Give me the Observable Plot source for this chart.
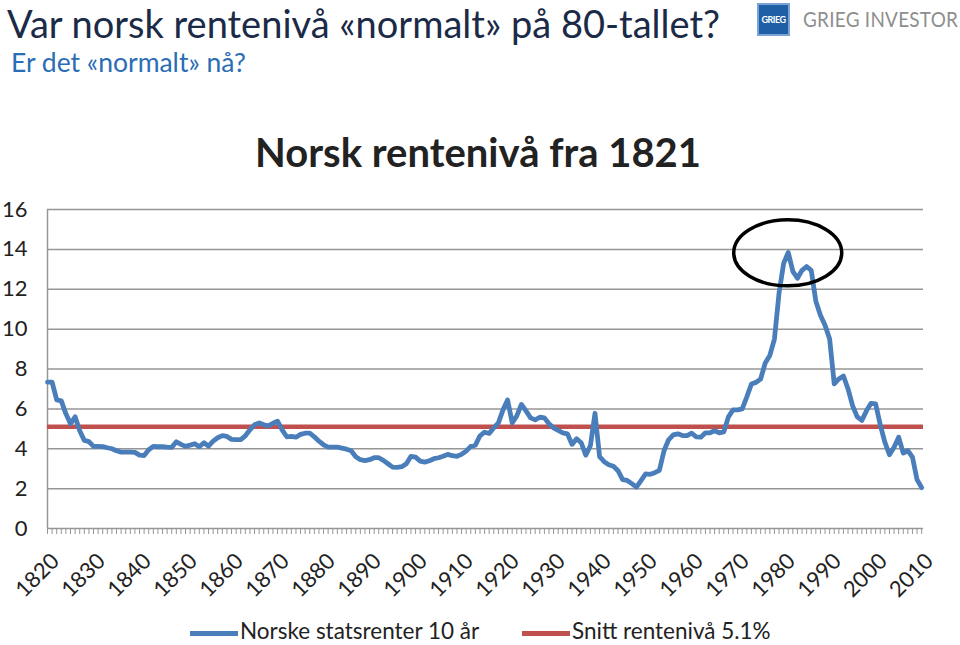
<!DOCTYPE html>
<html>
<head>
<meta charset="utf-8">
<script src="https://cdn.jsdelivr.net/npm/d3@7"></script>
<script src="https://cdn.jsdelivr.net/npm/@observablehq/plot@0.6"></script>
<style>
  html, body { margin: 0; padding: 0; background: #fff; }
  #page { position: relative; width: 960px; height: 645px; overflow: hidden; font-family: Lato, "Open Sans", sans-serif; }
  .abs { position: absolute; white-space: nowrap; line-height: normal; }
  #title { left: 7px; top: 0px; font-size: 38px; color: #1b2a47; }
  #subtitle { left: 11px; top: 46px; font-size: 26.5px; color: #2a6db5; }
  #logo { left: 757px; top: 3px; width: 33px; height: 33px; background: #1f5fa6; border: 2px solid #7aa3d6; box-sizing: border-box; color: #fff; font: bold 9px Lato; display:flex; align-items:center; justify-content:center; letter-spacing: -0.5px; }
  #brand { left: 803px; top: 6px; font-size: 21px; color: #8e8e8e; transform: scaleX(0.9); transform-origin: left center; letter-spacing: 0.3px; }
  #charttitle { left: 0; width: 956px; top: 128px; text-align: center; font-size: 40px; font-weight: bold; color: #222; }
  #chart { left: 0; top: 100px; }
  #legend { left: 0; top: 617px; width: 960px; height: 28px; font-size: 22.5px; color: #222; }
  .sw { position: absolute; height: 5px; top: 14px; }
  .lt { position: absolute; top: 0; }
</style>
</head>
<body>
<div id="page">
  <div id="title" class="abs">Var norsk rentenivå «normalt» på 80-tallet?</div>
  <div id="subtitle" class="abs">Er det «normalt» nå?</div>
  <div id="logo" class="abs">GRIEG</div>
  <div id="brand" class="abs">GRIEG INVESTOR</div>
  <div id="charttitle" class="abs">Norsk rentenivå fra 1821</div>
  <div id="chart" class="abs"></div>
  <div id="legend" class="abs">
    <div class="sw" style="left:190px;width:48px;background:#4A7EBB"></div>
    <div class="lt" style="left:240px">Norske statsrenter 10 år</div>
    <div class="sw" style="left:522px;width:48px;background:#C0504D"></div>
    <div class="lt" style="left:572px">Snitt rentenivå 5.1%</div>
  </div>
</div>
<script>
// ---- data ----
const firstYear = 1820;
const lastYear = 2010;
const rates = [
  7.34, 7.34, 6.45, 6.40, 5.75, 5.25, 5.60, 4.90, 4.42, 4.36, // 1820s
  4.12, 4.12, 4.11, 4.05, 4.00, 3.90, 3.83, 3.83, 3.83, 3.82, // 1830s
  3.68, 3.66, 3.95, 4.12, 4.10, 4.10, 4.08, 4.07, 4.35, 4.22, // 1840s
  4.12, 4.18, 4.25, 4.10, 4.30, 4.13, 4.38, 4.55, 4.66, 4.62, // 1850s
  4.47, 4.46, 4.46, 4.65, 4.95, 5.20, 5.30, 5.20, 5.15, 5.28, // 1860s
  5.38, 4.95, 4.60, 4.62, 4.58, 4.72, 4.78, 4.78, 4.60, 4.38, // 1870s
  4.20, 4.08, 4.08, 4.08, 4.03, 3.98, 3.90, 3.60, 3.45, 3.41, // 1880s
  3.45, 3.55, 3.55, 3.42, 3.25, 3.08, 3.07, 3.10, 3.25, 3.62, // 1890s
  3.58, 3.38, 3.33, 3.40, 3.50, 3.55, 3.62, 3.72, 3.65, 3.62, // 1900s
  3.72, 3.88, 4.12, 4.18, 4.65, 4.83, 4.77, 5.05, 5.30, 5.95, // 1910s
  6.45, 5.30, 5.65, 6.22, 5.90, 5.55, 5.45, 5.58, 5.55, 5.25, // 1920s
  5.05, 4.92, 4.80, 4.75, 4.22, 4.50, 4.30, 3.68, 4.15, 5.78, // 1930s
  3.60, 3.35, 3.20, 3.12, 2.90, 2.45, 2.41, 2.25, 2.07, 2.40, // 1940s
  2.74, 2.72, 2.80, 2.92, 3.90, 4.45, 4.70, 4.75, 4.66, 4.66, // 1950s
  4.78, 4.60, 4.58, 4.80, 4.80, 4.90, 4.80, 4.85, 5.60, 5.95, // 1960s
  5.95, 6.00, 6.60, 7.25, 7.33, 7.50, 8.30, 8.68, 9.50, 11.80, // 1970s
  13.30, 13.85, 12.90, 12.55, 12.95, 13.14, 12.95, 11.40, 10.70, 10.20, // 1980s
  9.50, 7.25, 7.50, 7.65, 7.00, 6.15, 5.60, 5.42, 5.90, 6.28, // 1990s
  6.25, 5.20, 4.33, 3.70, 4.08, 4.58, 3.78, 3.91, 3.58, 2.45, // 2000s
  2.05 // 2010
];
const averageRate = 5.1;
const yTicks = [0, 2, 4, 6, 8, 10, 12, 14, 16];
const xLabelYears = [1820, 1830, 1840, 1850, 1860, 1870, 1880, 1890, 1900, 1910, 1920, 1930, 1940, 1950, 1960, 1970, 1980, 1990, 2000, 2010];
const highlight = [{year: 1981, rate: 13.85}];

const years = d3.range(firstYear, lastYear + 1);
const series = years.map((year, i) => ({year, rate: rates[i]}));

const gridColor = "#969696";

const ellipseMark = (index, scales) => {
  const g = document.createElementNS("http://www.w3.org/2000/svg", "g");
  for (const h of highlight) {
    const e = document.createElementNS("http://www.w3.org/2000/svg", "ellipse");
    e.setAttribute("cx", scales.x(h.year));
    e.setAttribute("cy", scales.y(h.rate) + 1);
    e.setAttribute("rx", 54);
    e.setAttribute("ry", 33);
    e.setAttribute("fill", "none");
    e.setAttribute("stroke", "#000");
    e.setAttribute("stroke-width", 3.5);
    g.appendChild(e);
  }
  return g;
};

const chart = Plot.plot({
  width: 960,
  height: 500,
  marginTop: 109,
  marginBottom: 72,
  marginLeft: 47,
  marginRight: 37,
  x: {domain: [firstYear, lastYear + 0.4], axis: null},
  y: {domain: [0, 16], axis: null},
  style: {fontFamily: "Lato, sans-serif", fontSize: "20px", color: "#222", background: "transparent", overflow: "visible"},
  marks: [
    Plot.ruleY(yTicks, {stroke: gridColor, strokeWidth: 1.5}),
    Plot.ruleX([firstYear], {y1: 0, y2: 16, stroke: gridColor, strokeWidth: 1.5}),
    Plot.ruleX(years, {y1: 0, y2: -0.3, stroke: gridColor, strokeWidth: 1}),
    Plot.text(yTicks, {x: firstYear, y: d => d, text: d => String(d), textAnchor: "end", dx: -20, fontSize: 22, fill: "#222"}),
    Plot.text(xLabelYears, {x: d => d, y: 0, text: d => String(d), textAnchor: "end", rotate: -45, dx: 8, dy: 29, fontSize: 22, fill: "#222"}),
    Plot.ruleY([averageRate], {stroke: "#C0504D", strokeWidth: 4.5}),
    Plot.line(series, {x: "year", y: "rate", stroke: "#4A7EBB", strokeWidth: 4.8, strokeLinejoin: "round"}),
    ellipseMark
  ]
});
document.getElementById("chart").appendChild(chart);
</script>
</body>
</html>
